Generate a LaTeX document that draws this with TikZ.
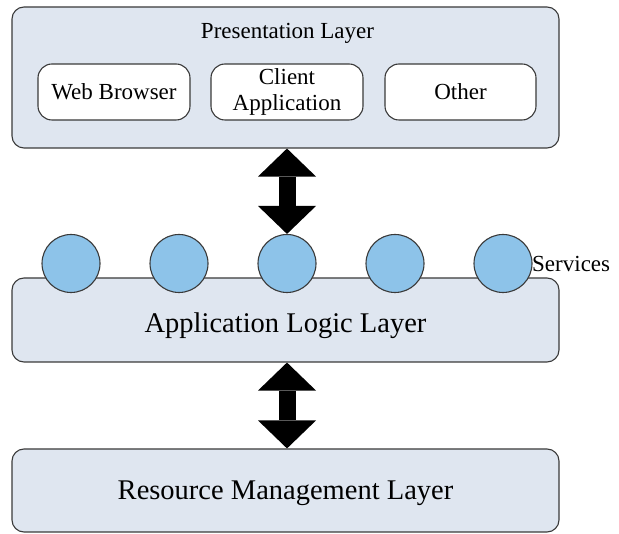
\documentclass[tikz,border=0pt]{standalone}
\usepackage{fontspec}
\setmainfont{Liberation Serif}
\usetikzlibrary{arrows.meta}
\definecolor{layerfill}{HTML}{DFE6F0}
\definecolor{servfill}{HTML}{8DC3E9}
\definecolor{edgegray}{HTML}{3A3A3A}

\begin{document}
\begin{tikzpicture}[x=1pt,y=-1pt,
    layer/.style={draw=edgegray, line width=1.1pt, fill=layerfill, rounded corners=12pt, minimum width=547pt, text depth=0pt, font=\fontsize{28.5}{31}\selectfont},
    client/.style={draw=edgegray, line width=1.1pt, fill=white, rounded corners=14pt, minimum width=152pt, minimum height=56pt, align=center, inner sep=1pt, font=\fontsize{23}{26}\selectfont},
    service/.style={draw=edgegray, line width=1.1pt, fill=servfill, circle, minimum size=58pt, inner sep=0pt},
    small/.style={text depth=0pt, inner sep=0pt, font=\fontsize{23}{26}\selectfont},
    bigarrow/.style={line width=17pt, {Triangle[length=28pt,width=58pt,line width=0pt]}-{Triangle[length=28pt,width=58pt,line width=0pt]}}]

    \useasboundingbox (0,0) rectangle (619,534);

    \node[layer, minimum height=141pt] (pres) at (285.5,77.5) {};
    \node[small] (title) at (287.5,31) {Presentation Layer};
    \node[client, text depth=0pt] (web) at (114,92) {Web Browser};
    \node[client] (capp) at (287,92) {Client\\Application};
    \node[client, minimum width=151pt, text depth=0pt] (other) at (460.5,92) {Other};

    \node[layer, minimum height=84pt, text height=26pt] (app) at (285.5,320) {Application Logic Layer};
    \node[service] (s1) at (71,263.5) {};
    \node[service] (s2) at (179,263.5) {};
    \node[service] (s3) at (287,263.5) {};
    \node[service] (s4) at (395,263.5) {};
    \node[service] (s5) at (503,263.5) {};
    \node[small, anchor=west] (services) at (532,263.5) {Services};

    \node[layer, minimum height=83pt] (res) at (285.5,490.5) {Resource Management Layer};

    \draw[bigarrow] (pres.south -| s3.north) -- (s3.north);
    \draw[bigarrow] (app.south -| s3.north) -- (res.north -| s3.north);

\end{tikzpicture}
\end{document}
